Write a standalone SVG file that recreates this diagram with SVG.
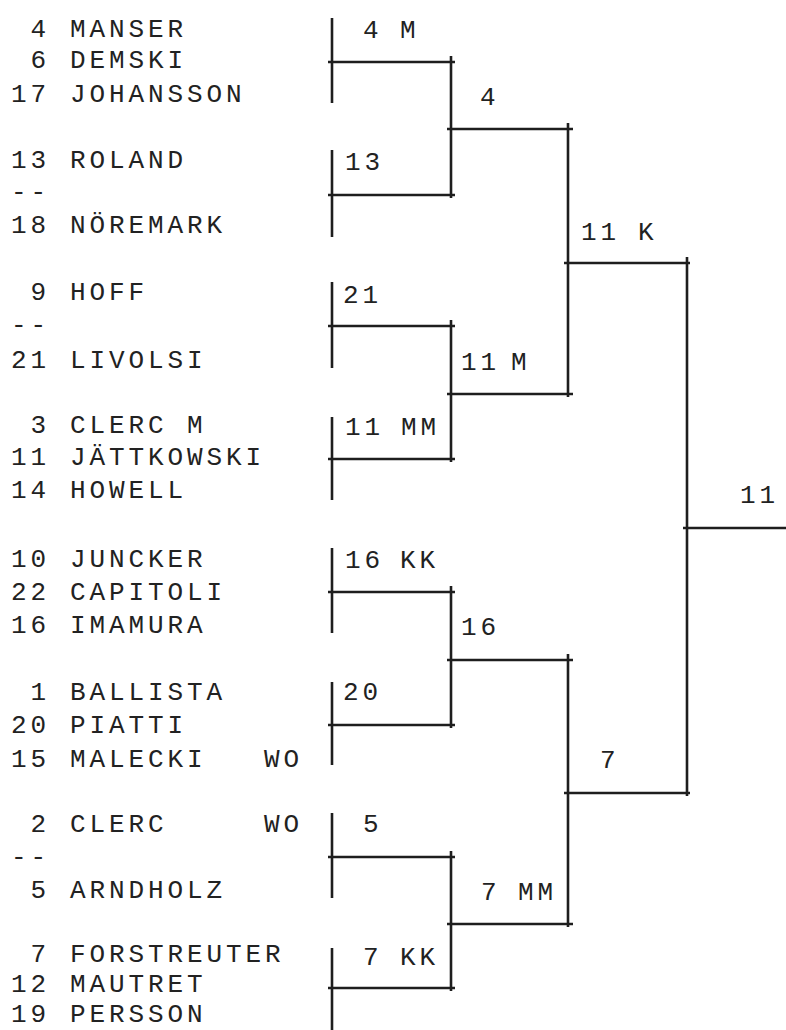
<svg xmlns="http://www.w3.org/2000/svg" width="786" height="1030" viewBox="0 0 786 1030">
<style>
.t{font-family:"Liberation Mono","DejaVu Sans Mono",monospace;font-size:26px;letter-spacing:3.9px;fill:#222}
.c line{stroke:#1e1e1e;stroke-width:2.6;stroke-linecap:butt}
</style>
<rect width="786" height="1030" fill="#fff"/>
<g id="players" class="t">
<g id="p4"><text x="30.5" y="37">4</text><text x="70" y="37">MANSER</text></g>
<g id="p6"><text x="30.5" y="68">6</text><text x="70" y="68">DEMSKI</text></g>
<g id="p17"><text x="11" y="102">17</text><text x="70" y="102">JOHANSSON</text></g>
<g id="p13"><text x="11" y="168">13</text><text x="70" y="168">ROLAND</text></g>
<g id="d1"><text x="11" y="200">--</text></g>
<g id="p18"><text x="11" y="233">18</text><text x="70" y="233">NÖREMARK</text></g>
<g id="p9"><text x="30.5" y="300">9</text><text x="70" y="300">HOFF</text></g>
<g id="d2"><text x="11" y="333">--</text></g>
<g id="p21"><text x="11" y="368">21</text><text x="70" y="368">LIVOLSI</text></g>
<g id="p3"><text x="30.5" y="433">3</text><text x="70" y="433">CLERC M</text></g>
<g id="p11"><text x="11" y="465">11</text><text x="70" y="465">JÄTTKOWSKI</text></g>
<g id="p14"><text x="11" y="498">14</text><text x="70" y="498">HOWELL</text></g>
<g id="p10"><text x="11" y="567">10</text><text x="70" y="567">JUNCKER</text></g>
<g id="p22"><text x="11" y="600">22</text><text x="70" y="600">CAPITOLI</text></g>
<g id="p16"><text x="11" y="633">16</text><text x="70" y="633">IMAMURA</text></g>
<g id="p1"><text x="30.5" y="700">1</text><text x="70" y="700">BALLISTA</text></g>
<g id="p20"><text x="11" y="733">20</text><text x="70" y="733">PIATTI</text></g>
<g id="p15"><text x="11" y="767">15</text><text x="70" y="767">MALECKI</text><text x="264" y="767">WO</text></g>
<g id="p2"><text x="30.5" y="832">2</text><text x="70" y="832">CLERC</text><text x="264" y="832">WO</text></g>
<g id="d3"><text x="11" y="865">--</text></g>
<g id="p5"><text x="30.5" y="898">5</text><text x="70" y="898">ARNDHOLZ</text></g>
<g id="p7"><text x="30.5" y="962">7</text><text x="70" y="962">FORSTREUTER</text></g>
<g id="p12"><text x="11" y="992">12</text><text x="70" y="992">MAUTRET</text></g>
<g id="p19"><text x="11" y="1022">19</text><text x="70" y="1022">PERSSON</text></g>
</g>
<g id="results" class="t">
<g id="r1"><text y="38"><tspan x="363">4</tspan><tspan x="400">M</tspan></text></g>
<g id="r2"><text x="345" y="170">13</text></g>
<g id="r3"><text x="343" y="303">21</text></g>
<g id="r4"><text y="435"><tspan x="345">11</tspan><tspan x="401">MM</tspan></text></g>
<g id="r5"><text y="568"><tspan x="345">16</tspan><tspan x="400">KK</tspan></text></g>
<g id="r6"><text x="343" y="700">20</text></g>
<g id="r7"><text x="363" y="832">5</text></g>
<g id="r8"><text y="965"><tspan x="363">7</tspan><tspan x="400">KK</tspan></text></g>
<g id="s1"><text x="480" y="105">4</text></g>
<g id="s2"><text y="370"><tspan x="461">11</tspan><tspan x="511">M</tspan></text></g>
<g id="s3"><text x="461" y="635">16</text></g>
<g id="s4"><text y="900"><tspan x="481">7</tspan><tspan x="518">MM</tspan></text></g>
<g id="q1"><text y="240"><tspan x="581">11</tspan><tspan x="638">K</tspan></text></g>
<g id="q2"><text x="600" y="768">7</text></g>
<g id="f1"><text x="740" y="503">11</text></g>
</g>
<g id="connectors" class="c">
<line x1="332" y1="18" x2="332" y2="103"/><line x1="328" y1="62" x2="455" y2="62"/>
<line x1="332" y1="150" x2="332" y2="237"/><line x1="328" y1="195" x2="455" y2="195"/>
<line x1="332" y1="282" x2="332" y2="368"/><line x1="328" y1="326" x2="455" y2="326"/>
<line x1="332" y1="417" x2="332" y2="500"/><line x1="328" y1="459" x2="455" y2="459"/>
<line x1="332" y1="548" x2="332" y2="633"/><line x1="328" y1="592" x2="455" y2="592"/>
<line x1="332" y1="682" x2="332" y2="765"/><line x1="328" y1="725" x2="455" y2="725"/>
<line x1="332" y1="813" x2="332" y2="898"/><line x1="328" y1="857" x2="455" y2="857"/>
<line x1="332" y1="948" x2="332" y2="1030"/><line x1="328" y1="988" x2="455" y2="988"/>
<line x1="451" y1="56" x2="451" y2="198"/><line x1="447" y1="129" x2="573" y2="129"/>
<line x1="451" y1="320" x2="451" y2="462"/><line x1="447" y1="394" x2="573" y2="394"/>
<line x1="451" y1="586" x2="451" y2="728"/><line x1="447" y1="660" x2="573" y2="660"/>
<line x1="451" y1="851" x2="451" y2="991"/><line x1="447" y1="924" x2="573" y2="924"/>
<line x1="568" y1="123" x2="568" y2="397"/><line x1="564" y1="263" x2="690" y2="263"/>
<line x1="568" y1="654" x2="568" y2="927"/><line x1="564" y1="793" x2="690" y2="793"/>
<line x1="687" y1="257" x2="687" y2="796"/><line x1="683" y1="528" x2="786" y2="528"/>
</g>
</svg>
